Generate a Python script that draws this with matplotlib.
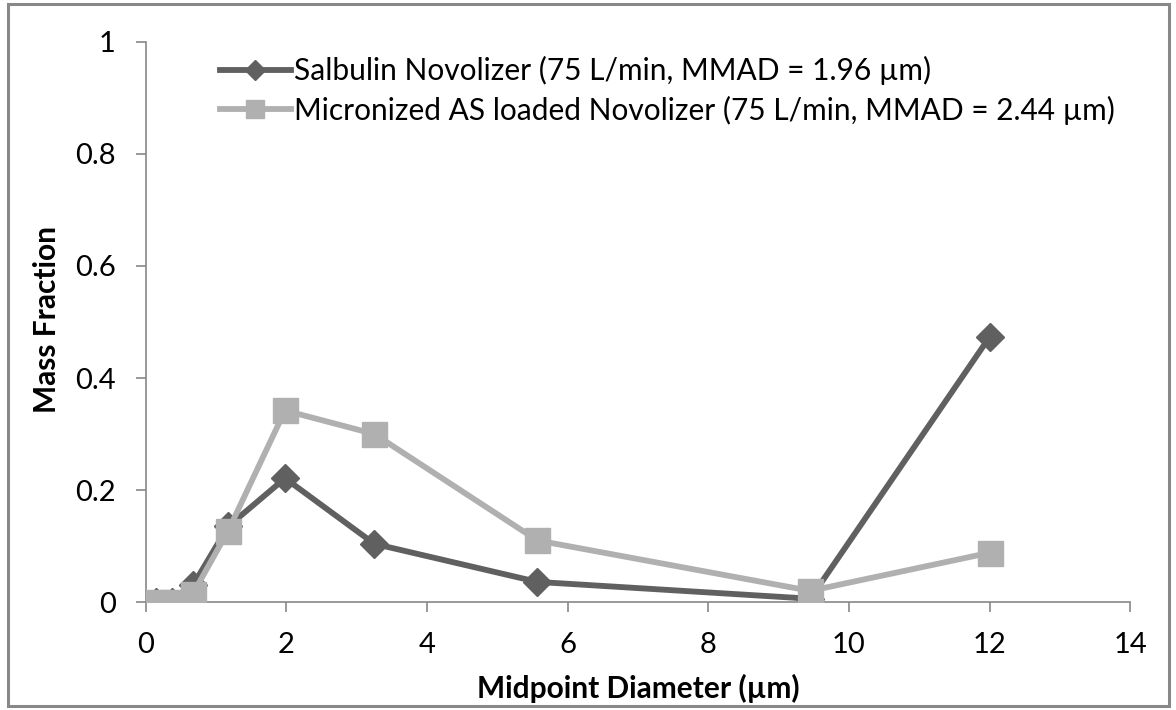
import matplotlib.pyplot as plt
from matplotlib.patches import Rectangle

plt.rcParams['font.family'] = ['Lato', 'DejaVu Sans']

# Midpoint diameters (um)
diameters = [0.15, 0.37, 0.67, 1.17, 1.98, 3.25, 5.57, 9.45, 12.0]
salbulin = [0.0, 0.0, 0.03, 0.135, 0.221, 0.104, 0.036, 0.006, 0.473]
micronized = [0.0, 0.0, 0.015, 0.127, 0.342, 0.300, 0.110, 0.020, 0.088]

labels = ['Salbulin Novolizer (75 L/min, MMAD = 1.96 \u00b5m)',
          'Micronized AS loaded Novolizer (75 L/min, MMAD = 2.44 \u00b5m)']

fig = plt.figure(figsize=(11.76, 7.10), dpi=100)
ax = fig.add_axes([0.124, 0.152, 0.837, 0.789])

ax.plot(diameters, salbulin, color='#606060', linewidth=4.2, marker='D',
        markersize=14, label=labels[0], zorder=2)
ax.plot(diameters, micronized, color='#b0b0b0', linewidth=4.2, marker='s',
        markersize=18, label=labels[1], zorder=3)

ax.set_xlim(0, 14)
ax.set_ylim(0, 1)
ax.set_xticks(range(0, 15, 2))
ax.set_yticks([0, 0.2, 0.4, 0.6, 0.8, 1])
ax.set_yticklabels(['0', '0.2', '0.4', '0.6', '0.8', '1'])
ax.tick_params(labelsize=21, length=7.5, width=1.2, color='#888888')
ax.tick_params(axis='x', pad=14)
ax.tick_params(axis='y', pad=14)
for s in ['top', 'right']:
    ax.spines[s].set_visible(False)
for s in ['left', 'bottom']:
    ax.spines[s].set_color('#888888')
    ax.spines[s].set_linewidth(1.2)
ax.set_xlabel('Midpoint Diameter (\u00b5m)', fontsize=21.5, fontweight='bold', va='center')
ax.xaxis.set_label_coords(0.5, -0.154)
ax.set_ylabel('Mass Fraction', fontsize=21.5, fontweight='bold', va='center')
ax.yaxis.set_label_coords(-0.1006, 0.504)

ax.legend(loc='upper left', bbox_to_anchor=(0.075, 0.975), frameon=False,
          fontsize=21.5, handlelength=2.4, handletextpad=0.1, labelspacing=0.35,
          borderpad=0, borderaxespad=0, markerscale=0.7)

fig.patches.append(Rectangle((0.007, 0.006), 0.987, 0.988, transform=fig.transFigure,
                             fill=False, edgecolor='#888888', linewidth=2.2))

fig.savefig('out.png', dpi=100)
